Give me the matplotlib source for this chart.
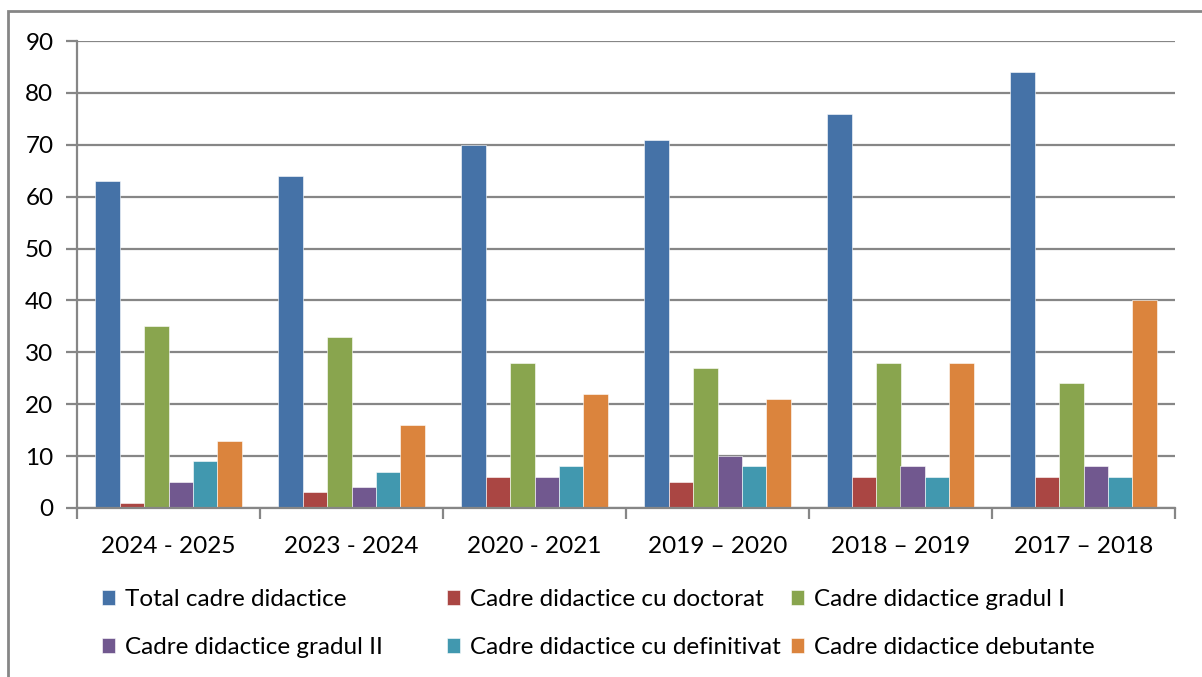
import numpy as np
import matplotlib.pyplot as plt
from matplotlib.patches import Rectangle

plt.rcParams['font.family'] = ['Lato', 'DejaVu Sans']

years = ['2024 - 2025', '2023 - 2024', '2020 - 2021', '2019 – 2020', '2018 – 2019', '2017 – 2018']
series = ['Total cadre didactice', 'Cadre didactice cu doctorat', 'Cadre didactice gradul I',
          'Cadre didactice gradul II', 'Cadre didactice cu definitivat', 'Cadre didactice debutante']
total = [63, 64, 70, 71, 76, 84]
doctorat = [1, 3, 6, 5, 6, 6]
gradul_1 = [35, 33, 28, 27, 28, 24]
gradul_2 = [5, 4, 6, 10, 8, 8]
definitivat = [9, 7, 8, 8, 6, 6]
debutante = [13, 16, 22, 21, 28, 40]
colors = ['#4572A7', '#AA4643', '#89A54E', '#71588F', '#4198AF', '#DB843D']

values = [total, doctorat, gradul_1, gradul_2, definitivat, debutante]

fig = plt.figure(figsize=(12.02, 6.77), dpi=100)
ax = fig.add_axes([77 / 1202, 1 - 508 / 677, 1098 / 1202, 467 / 677])

# outer frame of the chart
fig.patches.append(Rectangle((8 / 1202, -0.1), 1.2, 1 - 11 / 677 + 0.1, transform=fig.transFigure,
                             fill=False, edgecolor='#868686', lw=2))

x = np.arange(len(years))
w = 1 / 7.5
handles = []
for i, (vals, c) in enumerate(zip(values, colors)):
    b = ax.bar(x - 3 * w + (i + 0.5) * w, vals, width=w, color=c, edgecolor='white', linewidth=0.4,
               label=series[i], zorder=3)
    handles.append(b)

ax.set_xlim(-0.5, len(years) - 0.5)
ax.set_ylim(0, 90)
ax.set_yticks(range(0, 91, 10))
ax.grid(axis='y', color='#868686', lw=1.6, zorder=0)
ax.set_xticks(np.arange(-0.5, len(years), 1))
ax.set_xticklabels([])
ax.set_xticks(x, years, minor=True)
ax.tick_params(axis='x', which='major', length=8, width=1.6, color='#868686')
ax.tick_params(axis='x', which='minor', length=0, pad=20, labelsize=17.5)
ax.tick_params(axis='y', length=8, width=1.6, color='#868686', labelsize=17.5, pad=9)
for s in ['top', 'right']:
    ax.spines[s].set_visible(False)
for s in ['left', 'bottom']:
    ax.spines[s].set_color('#868686')
    ax.spines[s].set_linewidth(1.6)
    ax.spines[s].set_zorder(4)

# legend laid out in equal-width columns, as in the source chart
col_x = [102 / 1202, 447 / 1202, 791 / 1202]
for j in range(3):
    fig.legend([handles[j], handles[j + 3]], [series[j], series[j + 3]],
               loc='upper left', bbox_to_anchor=(col_x[j], 1 - 589 / 677),
               frameon=False, fontsize=17.5, handlelength=0.55, handleheight=0.55,
               handletextpad=0.4, labelspacing=1.12, borderpad=0, borderaxespad=0)

fig.savefig('out.png', dpi=100)
